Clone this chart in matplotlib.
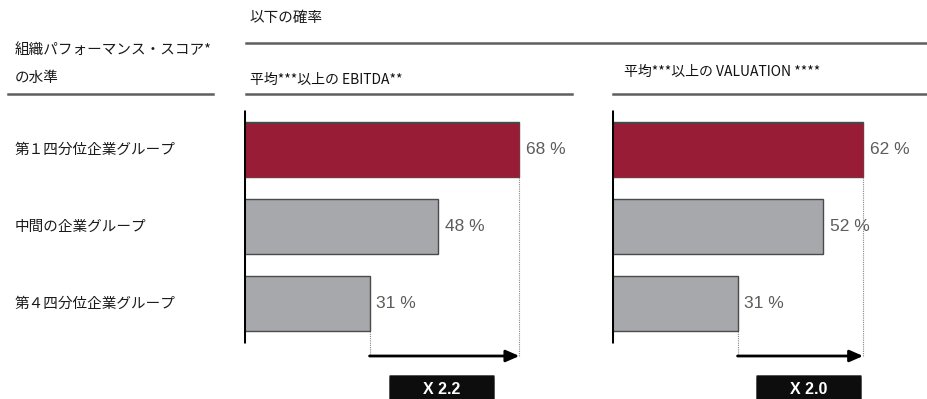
import matplotlib
matplotlib.use("Agg")
import matplotlib.pyplot as plt
from matplotlib.patches import FancyBboxPatch

plt.rcParams['font.family'] = ['Noto Sans CJK JP', 'DejaVu Sans']

# data
groups = ["第１四分位企業グループ", "中間の企業グループ", "第４四分位企業グループ"]
ebitda = [68, 48, 31]
valuation = [62, 52, 31]
panel_titles = ["平均***以上の EBITDA**", "平均***以上の VALUATION ****"]

RED = "#981c35"
GREY = "#a7a8ac"
EDGE = "#4a4a4a"

W, H = 928, 399
fig = plt.figure(figsize=(W / 100, H / 100), dpi=100)


def fx(px):
    return px / W


def fy(py):
    return 1 - py / H


# bar axes in pixel layout: bars 77 px apart, 55 px high, ~4.05 px per %
PX_PER_PCT = 4.05
ROW = 77.0
TOP_PX = 100
Y0 = 149.5  # centre of first bar


def py2d(py):
    return (py - Y0) / ROW


def draw_panel(x0, values, box_cx):
    width_px = 310
    ax = fig.add_axes([fx(x0), 0, fx(width_px), fy(TOP_PX)])
    ax.set_xlim(0, width_px / PX_PER_PCT)
    ax.set_ylim(py2d(H), py2d(TOP_PX))
    ax.axis("off")

    colors = [RED] + [GREY] * (len(values) - 1)
    ypos = list(range(len(values)))
    ax.barh(ypos, values, height=55 / ROW, color=colors,
            edgecolor=EDGE, linewidth=1.0, zorder=2)
    # vertical axis line
    ax.plot([0, 0], [py2d(110), py2d(343)], color="black", lw=2.2,
            solid_capstyle="butt", zorder=3)

    for y, v in zip(ypos, values):
        ax.annotate(f"{v} %", xy=(v, y), xytext=(5, 0),
                    textcoords="offset points", va="center", ha="left",
                    fontsize=12.5, color="#5c5c5c", family="Liberation Sans")

    top, low = values[0], values[-1]
    y_arrow = py2d(356)
    # dotted guides from bar ends to the arrow
    ax.plot([top, top], [0 + 55 / ROW / 2, y_arrow], color="#888888",
            lw=0.8, ls=(0, (1, 1)), zorder=1)
    ax.plot([low, low], [len(values) - 1 + 55 / ROW / 2, y_arrow],
            color="#888888", lw=0.8, ls=(0, (1, 1)), zorder=1)
    ax.annotate("", xy=(top, y_arrow), xytext=(low, y_arrow),
                arrowprops=dict(arrowstyle="-|>,head_length=0.8,head_width=0.35",
                                color="black", lw=2, shrinkA=0, shrinkB=0))

    # ratio box
    bw = 104 / PX_PER_PCT
    cx = (box_cx - x0) / PX_PER_PCT
    y_top, y_bot = py2d(376), py2d(406)
    box = FancyBboxPatch((cx - bw / 2, y_top), bw, y_bot - y_top,
                         boxstyle="round,pad=0,rounding_size=0.05",
                         fc="#0d0d0d", ec="#0d0d0d", clip_on=False,
                         mutation_aspect=1.0)
    ax.add_patch(box)
    ax.text(cx, py2d(389), f"X {top / low:.1f}", color="white",
            fontsize=11.5, fontweight="bold", ha="center", va="center",
            family="Liberation Sans")
    return ax


draw_panel(244, ebitda, 442)
draw_panel(612, valuation, 809)

# header texts and rules
line_kw = dict(color="#5e5e5e", lw=1.8)
fig.add_artist(plt.Line2D([fx(246), fx(928)], [fy(43), fy(43)], **line_kw))
fig.add_artist(plt.Line2D([fx(8), fx(213)], [fy(94), fy(94)], **line_kw))
fig.add_artist(plt.Line2D([fx(246), fx(572)], [fy(94), fy(94)], **line_kw))
fig.add_artist(plt.Line2D([fx(613), fx(928)], [fy(94), fy(94)], **line_kw))

fig.text(fx(250), fy(18), "以下の確率", fontsize=10.5, va="center", ha="left",
         color="#1a1a1a")
fig.text(fx(15), fy(50), "組織パフォーマンス・スコア*", fontsize=10.5,
         va="center", ha="left", color="#1a1a1a")
fig.text(fx(15), fy(78), "の水準", fontsize=10.5, va="center", ha="left",
         color="#1a1a1a")
fig.text(fx(250), fy(80), panel_titles[0], fontsize=10, va="center",
         ha="left", color="#111111")
fig.text(fx(624), fy(72), panel_titles[1], fontsize=10, va="center",
         ha="left", color="#111111")

for i, g in enumerate(groups):
    fig.text(fx(15), fy(Y0 + i * ROW), g, fontsize=10.5, va="center",
             ha="left", color="#1a1a1a")

fig.savefig("out.png", dpi=100, facecolor="white")
